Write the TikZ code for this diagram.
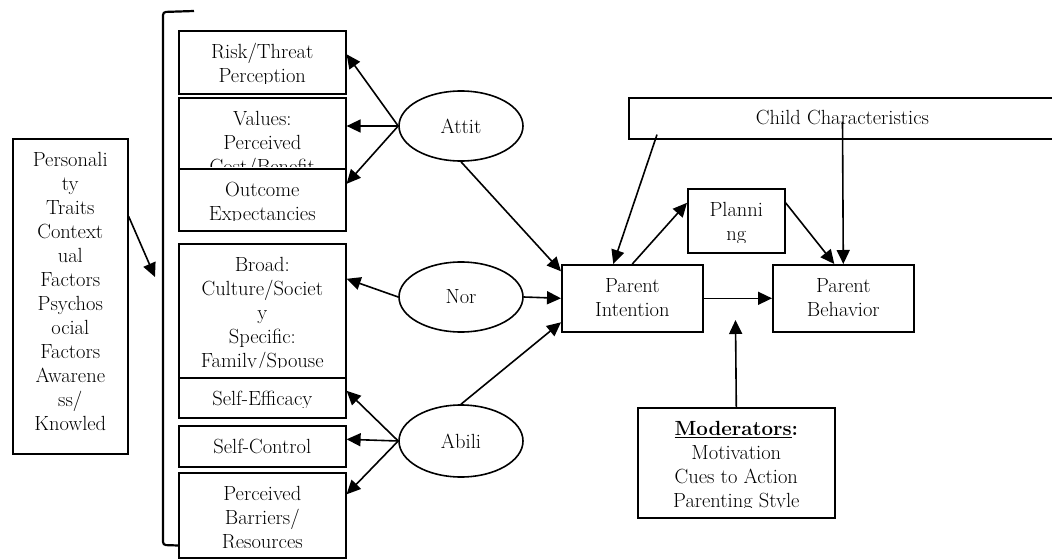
\documentclass[tikz,border=0pt]{standalone}
\usepackage{tikz}
\usetikzlibrary{shapes.geometric,arrows.meta,positioning}
\newcommand{\bodyfont}{\fontsize{20.5}{24}\selectfont}
\tikzset{
  box/.style={draw, fill=white, line width=1.6pt, inner sep=0pt, anchor=north west},
  txt/.style={path picture={
      \clip ([yshift=10pt]path picture bounding box.south west) rectangle (path picture bounding box.north east);
      \node[draw=none, fill=none, anchor=north, align=center, inner sep=0pt, minimum width=0pt, minimum height=0pt, font=\bodyfont]
        at ([yshift=-12pt]path picture bounding box.north) {\rule{0pt}{15pt}#1};}},
  oval/.style={draw, ellipse, line width=1.6pt, minimum width=124pt, minimum height=70pt, inner sep=0pt, font=\bodyfont},
  arr/.style={line width=1.6pt, -{Triangle[length=14pt,width=13pt]}},
}
\begin{document}
\begin{tikzpicture}[x=1pt,y=-1pt]
  \useasboundingbox (0,0) rectangle (1052,559);
  %Left side
  \node[box, minimum width=115pt, minimum height=315pt,
    txt={Personali\\ty\\Traits\\Context\\ual\\Factors\\Psychos\\ocial\\Factors\\Awarene\\ss/\\Knowled}] (pers) at (12,138) {};
  \coordinate (brk) at (155,277);
  \draw[line width=2.2pt, rounded corners=3pt] (194,11) -- (163,12) -- (163,545) -- (194,546);
  %Column of boxes
  \node[box, minimum width=167pt, minimum height=63pt, txt={Risk/Threat\\Perception}] (risk) at (178,30) {};
  \node[box, minimum width=167pt, minimum height=79pt, txt={Values:\\Perceived\\Cost/Benefit}] (values) at (178,97) {};
  \node[box, minimum width=167pt, minimum height=62pt, txt={Outcome\\Expectancies}] (outcome) at (178,168) {};
  \node[box, minimum width=167pt, minimum height=134pt, txt={Broad:\\Culture/Societ\\y\\Specific:\\Family/Spouse}] (broad) at (178,243) {};
  \node[box, minimum width=167pt, minimum height=40pt, txt={Self-Efficacy}] (selfeff) at (178,377) {};
  \node[box, minimum width=167pt, minimum height=41pt, txt={Self-Control}] (selfctl) at (178,425) {};
  \node[box, minimum width=167pt, minimum height=85pt, txt={Perceived\\Barriers/\\Resources}] (barrier) at (178,472) {};
  %Ellipses
  \node[oval] (attit) at (461,126) {Attit};
  \node[oval] (nor) at (461,297) {Nor};
  \node[oval, minimum height=72pt] (abili) at (461,441) {Abili};
  %Right side
  \node[box, minimum width=520pt, minimum height=41pt] (child) at (628,97) {};
  \node[anchor=base, font=\bodyfont, inner sep=0pt] (childlbl) at (842.5,125) {Child Characteristics};
  \node[box, minimum width=97pt, minimum height=64pt, txt={Planni\\ng}] (planning) at (687,188) {};
  \node[box, minimum width=141pt, minimum height=67pt, txt={Parent\\Intention}] (intention) at (561,264) {};
  \node[box, minimum width=141pt, minimum height=67pt, txt={Parent\\Behavior}] (behavior) at (772,264) {};
  \node[box, minimum width=197pt, minimum height=110pt,
    txt={\textbf{\underline{Moderators}:}\\Motivation\\Cues to Action\\Parenting Style}] (moderators) at (637,407) {};
  \coordinate (modtip) at (735.5,320);
  %Arrows
  \draw[arr] ([yshift=80pt]pers.east) -- (brk);
  \draw[arr] (attit.west) -- ([yshift=8pt]risk.east);
  \draw[arr] (attit.west) -- (values.east |- attit.west);
  \draw[arr] (attit.west) -- ([yshift=16pt]outcome.east);
  \draw[arr] (nor.west) -- ([yshift=32pt]broad.east);
  \draw[arr] (abili.west) -- ([yshift=7pt]selfeff.east);
  \draw[arr] (abili.west) -- ([yshift=7pt]selfctl.east);
  \draw[arr] (abili.west) -- ([yshift=21pt]barrier.east);
  \draw[arr] (attit.south) -- ([yshift=27pt]intention.west);
  \draw[arr] (nor.east) -- (intention.west);
  \draw[arr] (abili.north) -- ([yshift=-24pt]intention.west);
  \draw[arr] ([shift={(29pt,5pt)}]child.south west) -- ([xshift=-19pt]intention.north);
  \draw[arr] (intention.north) -- ([yshift=18pt]planning.west);
  \draw[arr] ([yshift=18pt]planning.east) -- ([xshift=-9pt]behavior.north);
  \draw[arr] ([yshift=4pt]childlbl.south) -- (behavior.north);
  \draw[arr] (intention.east) -- (behavior.west);
  \draw[arr] (moderators.north) -- (modtip);
\end{tikzpicture}
\end{document}
